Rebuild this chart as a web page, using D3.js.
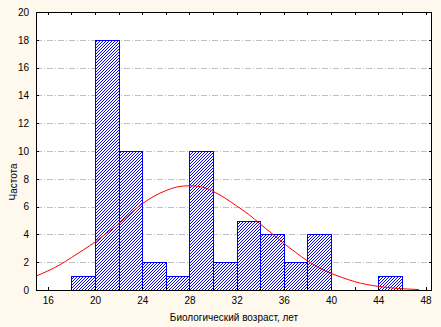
<!DOCTYPE html>
<html>
<head>
<meta charset="utf-8">
<script src="https://cdn.jsdelivr.net/npm/d3@7"></script>
<style>
html,body{margin:0;padding:0;background:#FEF9EC;}
svg{display:block;}
text{font-family:"Liberation Sans",Arial,sans-serif;fill:#000;}
</style>
</head>
<body>
<svg id="chart" width="441" height="327"></svg>
<script>
// ---- data ----
const binStarts = [18,20,22,24,26,28,30,32,34,36,38,40,42,44];
const binWidth = 2;
const counts    = [1,18,10,2,1,10,2,5,4,2,4,0,0,1];
const curveX = [15,16,17,18,19,20,21,22,23,24,25,26,27,28,29,30,31,32,33,34,35,36,37,38,39,40,41,42,43,44,45,46,47,47.45];
const curveY = [1.0,1.37,1.8,2.33,2.88,3.45,4.1,4.75,5.5,6.2,6.75,7.15,7.42,7.5,7.42,7.1,6.62,6.05,5.45,4.75,4.05,3.35,2.7,2.1,1.6,1.2,0.88,0.6,0.4,0.26,0.16,0.09,0.05,0.03];
const xTickLabels = [16,20,24,28,32,36,40,44,48];
const yTickLabels = [0,2,4,6,8,10,12,14,16,18,20];
const xTitle = "Биологический возраст, лет";
const yTitle = "Частота";

// ---- layout ----
const L = 36, R = 432, T = 12, B = 290;
const svg = d3.select("#chart");
const x = d3.scaleLinear().domain([15, 48.55]).range([L, R]);
const y = d3.scaleLinear().domain([0, 20]).range([B, T]);

// hatch pattern
const defs = svg.append("defs");
const pat = defs.append("pattern").attr("id","hatch").attr("patternUnits","userSpaceOnUse")
  .attr("width",3).attr("height",3);
pat.append("rect").attr("width",3).attr("height",3).attr("fill","#fff");
[[0,2],[1,1],[2,0]].forEach(p=>pat.append("rect").attr("x",p[0]).attr("y",p[1]).attr("width",1).attr("height",1).attr("fill","#0000FF"));

// plot background
svg.append("rect").attr("x",L).attr("y",T).attr("width",R-L).attr("height",B-T).attr("fill","#fff");

// grid
svg.append("g").selectAll("line").data(yTickLabels.filter(v=>v>0&&v<20)).join("line")
  .attr("x1",L).attr("x2",R)
  .attr("y1",d=>Math.round(y(d))+0.5).attr("y2",d=>Math.round(y(d))+0.5)
  .attr("stroke","#c0c0c0").attr("stroke-width",1).attr("stroke-dasharray","6,2,1,2");

// bars
svg.append("g").selectAll("rect").data(binStarts.map((s,i)=>({s,c:counts[i]})).filter(d=>d.c>0)).join("rect")
  .attr("x",d=>Math.round(x(d.s))+0.5)
  .attr("y",d=>Math.round(y(d.c))+0.5)
  .attr("width",d=>Math.round(x(d.s+binWidth))-Math.round(x(d.s)))
  .attr("height",d=>Math.round(y(0))-Math.round(y(d.c)))
  .attr("fill","url(#hatch)").attr("stroke","#0000FF").attr("stroke-width",1);

// normal curve
svg.append("path").datum(curveX.map((v,i)=>[v,curveY[i]]))
  .attr("d",d3.line().x(d=>x(d[0])).y(d=>y(d[1])).curve(d3.curveMonotoneX))
  .attr("fill","none").attr("stroke","#FF0000").attr("stroke-width",1);

// frame
svg.append("rect").attr("x",L+0.5).attr("y",T+0.5).attr("width",R-L-1).attr("height",B-T)
  .attr("fill","none").attr("stroke","#000").attr("stroke-width",1);

// ticks every 2 (inward) on all sides
const minorX = d3.range(16,49,2);
const minorY = d3.range(2,20,2);
const tk = svg.append("g").attr("stroke","#000").attr("stroke-width",1);
minorX.forEach(v=>{
  const px = Math.round(x(v))+0.5;
  tk.append("line").attr("x1",px).attr("x2",px).attr("y1",B).attr("y2",B-3);
  tk.append("line").attr("x1",px).attr("x2",px).attr("y1",T).attr("y2",T+3);
});
minorY.forEach(v=>{
  const py = Math.round(y(v))+0.5;
  tk.append("line").attr("x1",L).attr("x2",L+3).attr("y1",py).attr("y2",py);
  tk.append("line").attr("x1",R).attr("x2",R-3).attr("y1",py).attr("y2",py);
});

// axes labels
const xa = svg.append("g").attr("transform",`translate(0,${B})`)
  .call(d3.axisBottom(x).tickValues(xTickLabels).tickSize(0).tickPadding(7));
xa.select(".domain").remove();
xa.selectAll("text").attr("font-size",10).attr("font-family","Liberation Sans, Arial, sans-serif");

const ya = svg.append("g").attr("transform",`translate(${L},0)`)
  .call(d3.axisLeft(y).tickValues(yTickLabels).tickSize(0).tickPadding(7));
ya.select(".domain").remove();
ya.selectAll("text").attr("font-size",10).attr("font-family","Liberation Sans, Arial, sans-serif");

// titles
svg.append("text").attr("x",(L+R)/2).attr("y",321).attr("text-anchor","middle")
  .attr("font-size",10).text(xTitle);
svg.append("text").attr("transform","translate(17,182) rotate(-90)").attr("text-anchor","middle")
  .attr("font-size",10).text(yTitle);
</script>
</body>
</html>
